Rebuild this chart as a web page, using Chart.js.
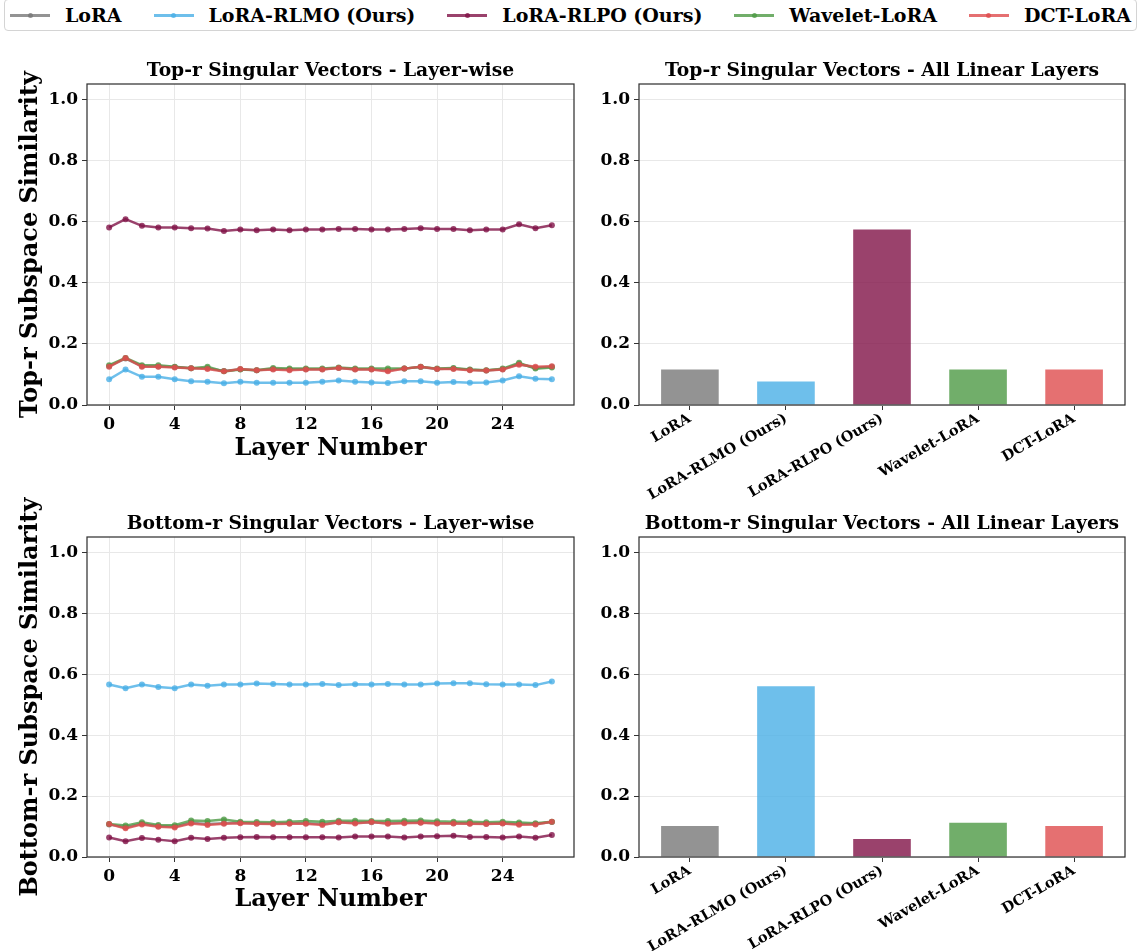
<!DOCTYPE html>
<html>
<head>
<meta charset="utf-8">
<script src="https://cdn.jsdelivr.net/npm/chart.js@4.4.0/dist/chart.umd.min.js"></script>
<style>
  html, body { margin: 0; padding: 0; background: #fff; }
  body { width: 1141px; height: 951px; position: relative; overflow: hidden; font-family: 'DejaVu Serif', serif; }
  .panel { position: absolute; }
  #legend {
    position: absolute; left: 4px; top: -1px; width: 1133px; height: 32px;
    box-sizing: border-box; border: 1px solid #d4d4d4; border-radius: 4px;
    display: flex; justify-content: space-between; align-items: center;
    padding: 0 5px; font-weight: bold; font-size: 19px; color: #000; background: #fff;
  }
  .item { display: flex; align-items: center; white-space: nowrap; }
  .handle { position: relative; display: inline-block; width: 40px; height: 3px; margin-right: 15px; }
  .handle i { position: absolute; left: 17.5px; top: -1px; width: 5px; height: 5px; border-radius: 50%; }
</style>
</head>
<body>
<div id="legend"></div>
<canvas id="c1" class="panel" style="left:0px;top:40px" width="600" height="440"></canvas>
<canvas id="c2" class="panel" style="left:600px;top:40px" width="541" height="480"></canvas>
<canvas id="c3" class="panel" style="left:0px;top:480px" width="600" height="471"></canvas>
<canvas id="c4" class="panel" style="left:600px;top:480px" width="541" height="471"></canvas>
<script>
// ---- data ----
const methods = ['LoRA', 'LoRA-RLMO (Ours)', 'LoRA-RLPO (Ours)', 'Wavelet-LoRA', 'DCT-LoRA'];
const colors = ['rgba(120,120,120,0.8)', 'rgba(74,175,230,0.8)', 'rgba(129,19,71,0.8)', 'rgba(78,154,69,0.8)', 'rgba(222,76,78,0.8)'];
const layers = [0,1,2,3,4,5,6,7,8,9,10,11,12,13,14,15,16,17,18,19,20,21,22,23,24,25,26,27];
const layerTicks = [0, 4, 8, 12, 16, 20, 24];
const simTicks = [0, 0.2, 0.4, 0.6, 0.8, 1.0];

// top-r singular vectors, per layer
const topLoRA    = [0.127,0.152,0.127,0.126,0.124,0.120,0.120,0.111,0.117,0.114,0.118,0.116,0.117,0.117,0.121,0.117,0.117,0.113,0.119,0.124,0.118,0.119,0.115,0.113,0.117,0.134,0.122,0.125];
const topRLMO    = [0.084,0.116,0.092,0.092,0.084,0.078,0.076,0.071,0.076,0.073,0.073,0.073,0.073,0.076,0.080,0.076,0.074,0.072,0.078,0.078,0.073,0.075,0.073,0.074,0.080,0.094,0.086,0.084];
const topRLPO    = [0.581,0.608,0.586,0.581,0.581,0.578,0.577,0.569,0.574,0.572,0.574,0.572,0.574,0.574,0.576,0.576,0.574,0.574,0.576,0.578,0.576,0.576,0.572,0.574,0.574,0.591,0.578,0.588];
const topWavelet = [0.130,0.154,0.130,0.130,0.125,0.120,0.125,0.110,0.116,0.114,0.121,0.119,0.119,0.119,0.123,0.119,0.119,0.119,0.119,0.125,0.119,0.121,0.116,0.114,0.119,0.138,0.119,0.123];
const topDCT     = [0.125,0.154,0.125,0.125,0.123,0.120,0.118,0.110,0.118,0.114,0.116,0.114,0.116,0.116,0.121,0.116,0.116,0.110,0.119,0.125,0.118,0.118,0.114,0.113,0.116,0.132,0.125,0.127];

// bottom-r singular vectors, per layer
const botLoRA    = [0.107,0.097,0.109,0.101,0.099,0.112,0.108,0.111,0.112,0.110,0.110,0.111,0.111,0.108,0.114,0.112,0.114,0.111,0.113,0.113,0.111,0.111,0.110,0.109,0.111,0.108,0.108,0.115];
const botRLMO    = [0.566,0.554,0.566,0.558,0.554,0.566,0.562,0.566,0.566,0.569,0.568,0.566,0.566,0.568,0.564,0.567,0.566,0.568,0.566,0.566,0.569,0.570,0.570,0.567,0.566,0.566,0.564,0.576];
const botRLPO    = [0.064,0.052,0.062,0.057,0.052,0.063,0.059,0.063,0.065,0.066,0.065,0.065,0.065,0.065,0.064,0.067,0.067,0.067,0.064,0.067,0.068,0.070,0.066,0.066,0.064,0.067,0.063,0.072];
const botWavelet = [0.108,0.103,0.114,0.105,0.104,0.120,0.118,0.123,0.116,0.115,0.114,0.116,0.118,0.116,0.119,0.119,0.118,0.118,0.119,0.120,0.117,0.116,0.116,0.114,0.116,0.113,0.111,0.116];
const botDCT     = [0.108,0.094,0.107,0.099,0.097,0.110,0.105,0.109,0.111,0.109,0.108,0.109,0.109,0.105,0.114,0.110,0.115,0.109,0.111,0.112,0.110,0.110,0.109,0.108,0.110,0.106,0.107,0.116];

// aggregated over all linear layers
const topAll = [0.116, 0.077, 0.574, 0.116, 0.116];
const botAll = [0.102, 0.560, 0.059, 0.112, 0.102];

// ---- shared styling ----
Chart.defaults.font.family = "'DejaVu Serif', serif";
Chart.defaults.font.weight = 'bold';
Chart.defaults.color = '#000';

const GRID = '#e8e8e8';
const SPINE = '#333';
const TITLE_FONT = "bold 18.7px 'DejaVu Serif', serif";

// full box around each plot area, plus a title centred over the plot area
const framePlugin = {
  id: 'frame',
  afterDraw(chart, args, opts) {
    const { ctx, chartArea: a } = chart;
    ctx.save();
    ctx.strokeStyle = SPINE;
    ctx.lineWidth = 1.25;
    ctx.strokeRect(a.left, a.top, a.right - a.left, a.bottom - a.top);
    if (opts && opts.text) {
      ctx.fillStyle = '#000';
      ctx.font = TITLE_FONT;
      ctx.textAlign = 'center';
      ctx.textBaseline = 'middle';
      ctx.fillText(opts.text, (a.left + a.right) / 2, a.top - 12.5);
    }
    ctx.restore();
  }
};

function yScale(width, titleText) {
  return {
    type: 'linear', min: 0, max: 1.05,
    afterBuildTicks: s => { s.ticks = simTicks.map(v => ({ value: v })); },
    afterFit: s => { s.width = width; },
    border: { display: false },
    grid: { color: GRID, lineWidth: 1, tickColor: SPINE, tickLength: 5, drawTicks: true },
    ticks: { font: { size: 17, weight: 'bold' }, color: '#000', padding: 4, callback: v => Number(v).toFixed(1) },
    title: titleText ? { display: true, text: titleText, font: { size: 24, weight: 'bold', lineHeight: 1.2 }, color: '#000', padding: { top: 16, bottom: 0 } } : { display: false }
  };
}

function lineChart(id, title, yTitle, series, lay) {
  new Chart(document.getElementById(id), {
    type: 'line',
    data: {
      datasets: series.map((vals, i) => ({
        label: methods[i],
        data: layers.map((l, j) => ({ x: l, y: vals[j] })),
        borderColor: colors[i],
        backgroundColor: colors[i],
        pointBackgroundColor: colors[i],
        borderWidth: 2.5,
        pointRadius: 3,
        pointHoverRadius: 3,
        pointBorderWidth: 0,
        tension: 0,
        order: methods.length - i
      }))
    },
    options: {
      responsive: false, animation: false, devicePixelRatio: 1,
      events: [],
      layout: { padding: { left: 0, right: lay.right, top: lay.top, bottom: 0 } },
      plugins: { legend: { display: false }, tooltip: { enabled: false }, title: { display: false }, frame: { text: title } },
      scales: {
        x: {
          type: 'linear', min: -1.35, max: 28.35,
          afterBuildTicks: s => { s.ticks = layerTicks.map(v => ({ value: v })); },
          afterFit: s => { s.height = lay.xh; },
          border: { display: false },
          grid: { color: GRID, lineWidth: 1, tickColor: SPINE, tickLength: 5, drawTicks: true },
          ticks: { font: { size: 17, weight: 'bold' }, color: '#000', padding: 4, maxRotation: 0, callback: v => String(v) },
          title: { display: true, text: 'Layer Number', color: '#000', font: { size: 24, weight: 'bold', lineHeight: 1.2 }, padding: { top: 0, bottom: lay.xtb } }
        },
        y: yScale(87, yTitle)
      }
    },
    plugins: [framePlugin]
  });
}

function barChart(id, title, values, lay) {
  new Chart(document.getElementById(id), {
    type: 'bar',
    data: {
      datasets: [{
        data: methods.map((m, i) => ({ x: i, y: values[i] })),
        backgroundColor: colors,
        borderWidth: 0,
        barPercentage: 0.6,
        categoryPercentage: 1.0
      }]
    },
    options: {
      responsive: false, animation: false, devicePixelRatio: 1,
      events: [],
      layout: { padding: { left: 0, right: lay.right, top: lay.top, bottom: 0 } },
      plugins: { legend: { display: false }, tooltip: { enabled: false }, title: { display: false }, frame: { text: title } },
      scales: {
        x: {
          type: 'linear', min: -0.53, max: 4.53, offset: false,
          afterBuildTicks: s => { s.ticks = methods.map((m, i) => ({ value: i })); },
          afterFit: s => { s.height = lay.xh; },
          border: { display: false },
          grid: { offset: false, drawOnChartArea: false, tickColor: SPINE, tickLength: 5, drawTicks: true },
          ticks: { font: { size: 14.5, weight: 'bold' }, color: '#000', padding: 0, autoSkip: false, minRotation: 30, maxRotation: 30, callback: v => methods[v] }
        },
        y: yScale(39, null)
      }
    },
    plugins: [framePlugin]
  });
}

// ---- legend ----
const legend = document.getElementById('legend');
methods.forEach((m, i) => {
  const item = document.createElement('span');
  item.className = 'item';
  const h = document.createElement('span');
  h.className = 'handle';
  h.style.background = colors[i];
  const dot = document.createElement('i');
  dot.style.background = colors[i];
  h.appendChild(dot);
  item.appendChild(h);
  item.appendChild(document.createTextNode(m));
  legend.appendChild(item);
});

// ---- panels ----
lineChart('c1', 'Top-r Singular Vectors - Layer-wise', 'Top-r Subspace Similarity',
  [topLoRA, topRLMO, topRLPO, topWavelet, topDCT],
  { right: 26, top: 44, xh: 75, xtb: 16.6 });

barChart('c2', 'Top-r Singular Vectors - All Linear Layers', topAll,
  { right: 16, top: 44, xh: 115 });

lineChart('c3', 'Bottom-r Singular Vectors - Layer-wise', 'Bottom-r Subspace Similarity',
  [botLoRA, botRLMO, botRLPO, botWavelet, botDCT],
  { right: 26, top: 57, xh: 94, xtb: 36.6 });

barChart('c4', 'Bottom-r Singular Vectors - All Linear Layers', botAll,
  { right: 16, top: 57, xh: 94 });
</script>
</body>
</html>
